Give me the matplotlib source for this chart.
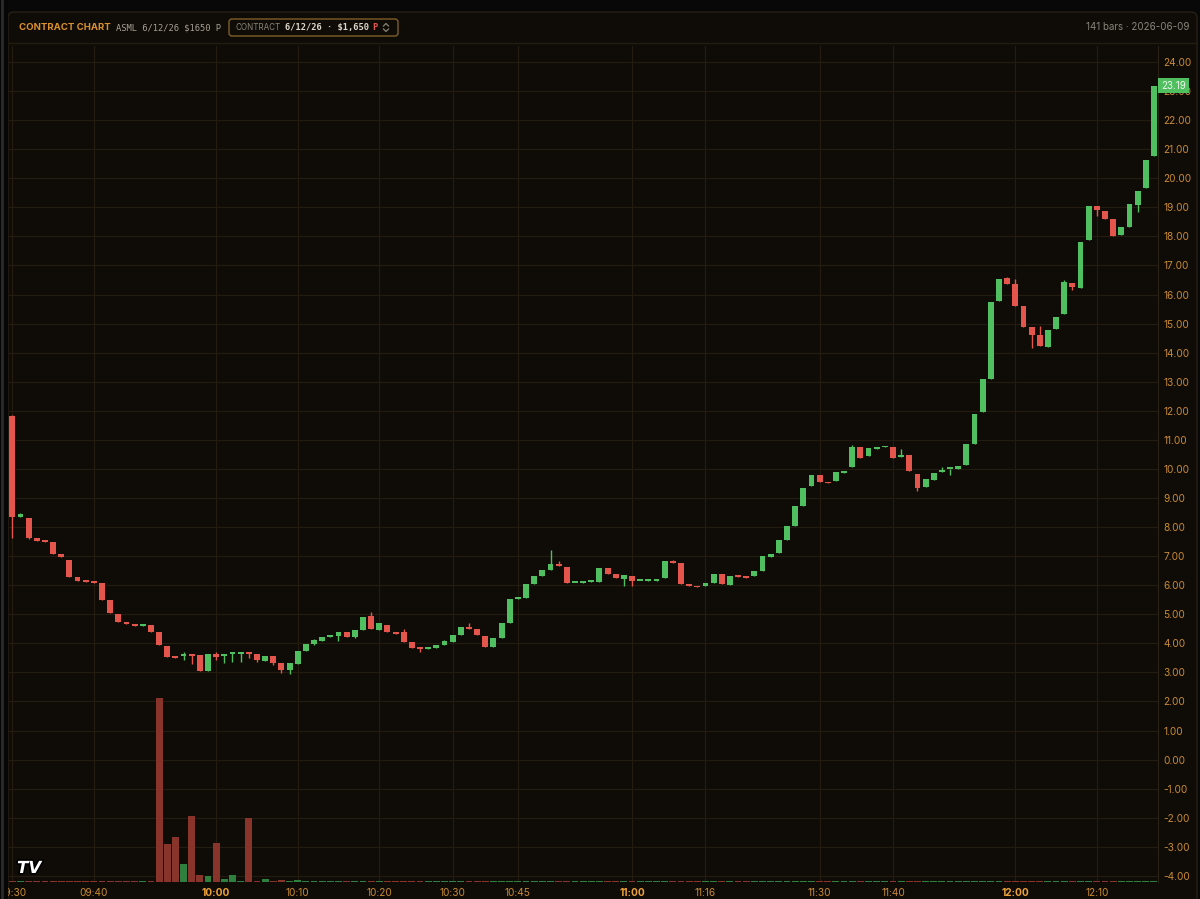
import matplotlib
matplotlib.use('Agg')
import matplotlib.pyplot as plt
from matplotlib.patches import FancyBboxPatch, Rectangle
from matplotlib.lines import Line2D
from matplotlib.transforms import blended_transform_factory
import matplotlib.patheffects as pe

# OHLC values (141 bars)
opens = [11.83, 8.35, 8.30, 7.62, 7.52, 7.48, 7.07, 6.86, 6.28, 6.15,
         6.14, 6.07, 5.48, 5.00, 4.72, 4.66, 4.61, 4.62, 4.38, 3.90,
         3.52, 3.55, 3.62, 3.59, 3.06, 3.62, 3.57, 3.63, 3.63, 3.67,
         3.64, 3.41, 3.57, 3.31, 3.09, 3.30, 3.72, 3.98, 4.09, 4.22,
         4.24, 4.38, 4.21, 4.47, 4.93, 4.46, 4.64, 4.38, 4.40, 4.03,
         3.84, 3.82, 3.85, 3.93, 4.05, 4.29, 4.57, 4.51, 4.27, 3.86,
         4.18, 4.70, 5.53, 5.55, 6.03, 6.30, 6.51, 6.74, 6.62, 6.07,
         6.08, 6.11, 6.11, 6.60, 6.39, 6.21, 6.30, 6.15, 6.15, 6.16,
         6.25, 6.82, 6.76, 6.05, 5.98, 5.97, 6.08, 6.39, 6.02, 6.33,
         6.29, 6.32, 6.48, 6.97, 7.11, 7.54, 8.03, 8.71, 9.40, 9.79,
         9.56, 9.60, 9.87, 10.05, 10.74, 10.46, 10.70, 10.74, 10.76, 10.40,
         10.47, 9.84, 9.37, 9.63, 9.89, 9.99, 10.01, 10.14, 10.85, 11.97,
         13.10, 15.77, 16.56, 16.37, 15.61, 14.89, 14.62, 14.21, 14.80, 15.33,
         16.40, 16.22, 17.86, 19.03, 18.89, 18.60, 18.05, 18.34, 19.07, 19.66,
         20.77]
closes = [8.35, 8.45, 7.62, 7.52, 7.49, 7.07, 6.96, 6.28, 6.14, 6.12,
          6.09, 5.48, 5.03, 4.72, 4.66, 4.61, 4.65, 4.38, 3.93, 3.52,
          3.50, 3.62, 3.58, 3.06, 3.62, 3.52, 3.64, 3.67, 3.67, 3.63,
          3.42, 3.56, 3.32, 3.09, 3.31, 3.74, 3.99, 4.10, 4.22, 4.25,
          4.38, 4.22, 4.46, 4.90, 4.48, 4.69, 4.38, 4.33, 4.03, 3.84,
          3.82, 3.84, 3.94, 4.07, 4.30, 4.56, 4.51, 4.28, 3.86, 4.18,
          4.69, 5.53, 5.55, 6.04, 6.31, 6.51, 6.74, 6.67, 6.08, 6.09,
          6.10, 6.14, 6.60, 6.37, 6.25, 6.35, 6.14, 6.16, 6.17, 6.19,
          6.83, 6.75, 6.04, 5.98, 5.93, 6.09, 6.39, 6.04, 6.31, 6.28,
          6.25, 6.50, 6.99, 7.06, 7.55, 8.03, 8.72, 9.36, 9.79, 9.56,
          9.50, 9.89, 9.92, 10.74, 10.39, 10.71, 10.75, 10.78, 10.36, 10.49,
          9.93, 9.36, 9.66, 9.87, 9.98, 10.01, 10.11, 10.85, 11.90, 13.10,
          15.76, 16.54, 16.37, 15.62, 14.89, 14.61, 14.22, 14.78, 15.24, 16.42,
          16.25, 17.80, 19.03, 18.90, 18.60, 18.03, 18.32, 19.12, 19.55, 20.64,
          23.19]
highs = [11.85, 8.47, 8.31, 7.62, 7.52, 7.48, 7.07, 6.86, 6.28, 6.15,
         6.14, 6.07, 5.48, 5.00, 4.72, 4.66, 4.65, 4.62, 4.38, 3.90,
         3.52, 3.70, 3.64, 3.59, 3.62, 3.69, 3.64, 3.67, 3.67, 3.70,
         3.64, 3.56, 3.57, 3.31, 3.31, 3.74, 3.99, 4.14, 4.22, 4.25,
         4.38, 4.38, 4.46, 4.90, 5.08, 4.69, 4.64, 4.38, 4.49, 4.03,
         3.84, 3.84, 3.94, 4.13, 4.30, 4.56, 4.69, 4.51, 4.27, 4.18,
         4.69, 5.53, 5.55, 6.04, 6.31, 6.51, 7.21, 6.85, 6.62, 6.09,
         6.10, 6.14, 6.60, 6.60, 6.39, 6.35, 6.30, 6.16, 6.17, 6.23,
         6.83, 6.86, 6.76, 6.05, 5.98, 6.09, 6.39, 6.39, 6.31, 6.33,
         6.29, 6.50, 6.99, 7.06, 7.55, 8.03, 8.72, 9.36, 9.79, 9.79,
         9.56, 9.89, 9.92, 10.81, 10.74, 10.71, 10.75, 10.78, 10.76, 10.67,
         10.47, 9.84, 9.66, 9.87, 10.05, 10.01, 10.11, 10.85, 11.90, 13.10,
         15.76, 16.54, 16.62, 16.54, 15.61, 14.89, 14.91, 14.78, 15.24, 16.50,
         16.40, 17.80, 19.03, 19.03, 18.89, 18.60, 18.32, 19.12, 19.55, 20.64,
         23.19]
lows = [7.62, 8.33, 7.60, 7.52, 7.49, 7.07, 6.96, 6.28, 6.14, 6.12,
        6.09, 5.48, 5.03, 4.72, 4.66, 4.61, 4.61, 4.38, 3.93, 3.52,
        3.50, 3.43, 3.30, 3.06, 3.06, 3.43, 3.33, 3.37, 3.36, 3.50,
        3.37, 3.41, 3.27, 2.98, 2.94, 3.30, 3.72, 3.95, 4.09, 4.22,
        4.07, 4.22, 4.17, 4.47, 4.48, 4.46, 4.38, 4.33, 4.03, 3.84,
        3.70, 3.82, 3.85, 3.93, 4.05, 4.29, 4.51, 4.28, 3.86, 3.86,
        4.18, 4.70, 5.53, 5.55, 6.03, 6.30, 6.51, 6.67, 6.08, 6.07,
        6.08, 6.11, 6.11, 6.37, 6.25, 5.96, 5.98, 6.15, 6.15, 6.16,
        6.25, 6.75, 6.04, 5.98, 5.93, 5.97, 6.08, 6.04, 6.02, 6.28,
        6.25, 6.32, 6.48, 6.97, 7.11, 7.54, 8.03, 8.71, 9.40, 9.56,
        9.50, 9.60, 9.87, 10.05, 10.39, 10.46, 10.70, 10.74, 10.36, 10.40,
        9.93, 9.24, 9.37, 9.63, 9.89, 9.80, 10.01, 10.14, 10.85, 11.97,
        13.10, 15.77, 16.37, 15.62, 14.89, 14.16, 14.22, 14.21, 14.80, 15.33,
        16.14, 16.22, 17.86, 18.70, 18.60, 18.03, 18.05, 18.34, 18.83, 19.66,
        20.77]
volumes = [1, 1, 1, 1, 1, 1, 1, 1, 1, 1,
           1, 1, 1, 1, 1, 1, 1, 1, 184, 38,
           45, 18, 66, 7, 6, 39, 3, 7, 1, 64,
           1, 3, 1, 2, 1, 2, 1, 1, 1, 1,
           1, 1, 1, 1, 1, 1, 1, 1, 1, 1,
           1, 1, 1, 1, 1, 1, 1, 1, 1, 1,
           1, 1, 1, 1, 1, 1, 1, 1, 1, 1,
           1, 1, 1, 1, 1, 1, 1, 1, 1, 1,
           1, 1, 1, 1, 1, 1, 1, 1, 1, 1,
           1, 1, 1, 1, 1, 1, 1, 1, 1, 1,
           1, 1, 1, 1, 1, 1, 1, 1, 1, 1,
           1, 1, 1, 1, 1, 1, 1, 1, 1, 1,
           1, 1, 1, 1, 1, 1, 1, 1, 1, 1,
           1, 1, 1, 1, 1, 1, 1, 1, 1, 1,
           1]
time_ticks = [0, 10, 25, 35, 45, 54, 62, 76, 85, 99, 108, 123, 133]
time_labels = ['09:30', '09:40', '10:00', '10:10', '10:20', '10:30', '10:45',
               '11:00', '11:16', '11:30', '11:40', '12:00', '12:10']
hour_labels = ['10:00', '11:00', '12:00']
price_ticks = list(range(-4, 25))
last_price = 23.19

GREEN = '#4fbf5f'
RED = '#e4564c'
VGREEN = '#2f7f3e'
VRED = '#88342b'
PANEL = '#0f0c07'
GRID = '#241c10'
ORANGE = '#c98a34'

fig = plt.figure(figsize=(12, 8.99), dpi=100, facecolor='#080808')
tr = fig.dpi_scale_trans


def P(x, y):
    # pixel position (from top-left) -> inches for dpi_scale_trans
    return x / 100, (899 - y) / 100


# outer panel and header
fig.patches.append(FancyBboxPatch(P(8, 930), 11.89, 9.18,
                                  boxstyle='round,pad=0,rounding_size=0.06',
                                  transform=tr, fc=PANEL, ec='#262016', lw=1, zorder=-5))
fig.lines.append(Line2D([0.08, 11.97], [P(0, 43)[1]] * 2, transform=tr, color='#231c11', lw=1))

fig.text(*P(19, 27.5), 'CONTRACT CHART', transform=tr, color='#dc912f', fontsize=6.9,
         fontweight='bold', family='Inter', va='center', ha='left')
fig.text(*P(116, 27.5), 'ASML 6/12/26 $1650 P', transform=tr, color='#a7a093', fontsize=6.3,
         family='DejaVu Sans Mono', va='center', ha='left')
fig.patches.append(FancyBboxPatch(P(229, 36), 1.69, 0.17,
                                  boxstyle='round,pad=0,rounding_size=0.03',
                                  transform=tr, fc='none', ec='#7f5d29', lw=1))
fig.text(*P(236, 27.5), 'CONTRACT', transform=tr, color='#8a8376', fontsize=5.8,
         family='Inter', va='center', ha='left')
fig.text(*P(285, 27.5), '6/12/26 · $1,650', transform=tr, color='#ddd6ca', fontsize=6.3,
         fontweight='bold', family='DejaVu Sans Mono', va='center', ha='left')
fig.text(*P(372, 27.5), 'P', transform=tr, color=RED, fontsize=6.3,
         fontweight='bold', family='DejaVu Sans Mono', va='center', ha='left')
for y0, d in [(26, -1), (29, 1)]:
    xs = [383.5, 386, 388.5]
    ys = [y0, y0 + 2.5 * d, y0]
    fig.lines.append(Line2D([v / 100 for v in xs], [(899 - v) / 100 for v in ys],
                            transform=tr, color='#8a8376', lw=0.9))
fig.text(*P(1190, 27.5), '141 bars · 2026-06-09', transform=tr, color='#8a857c', fontsize=7,
         family='Inter', va='center', ha='right')

# main price axes; volume twin drawn on top so the grid stays behind its bars
ax = fig.add_axes([8 / 1200, 17 / 899, 1150 / 1200, 836 / 899])
ax2 = ax.twinx()
ax.set_zorder(1)
ax2.set_zorder(2)
ax.patch.set_visible(False)
ax2.patch.set_visible(False)

x = list(range(len(opens)))
colors = [GREEN if c >= o else RED for o, c in zip(opens, closes)]
vcolors = [VGREEN if c >= o else VRED for o, c in zip(opens, closes)]

# volume
ax2.bar(x, volumes, width=0.84, color=vcolors, edgecolor='none')
ax2.set_ylim(0, max(volumes) * 4.54)
ax2.set_yticks([])
for s in ax2.spines.values():
    s.set_visible(False)

# candles
ax.vlines(x, lows, highs, colors=colors, lw=1, zorder=3)
bottoms = [min(o, c) for o, c in zip(opens, closes)]
heights = [max(abs(c - o), 0.06) for o, c in zip(opens, closes)]
ax.bar(x, heights, bottom=bottoms, width=0.72, color=colors, edgecolor='none', zorder=4)

ax.set_xlim(-0.53, 140.5)
ax.set_ylim(-4.21, 24.55)
ax.yaxis.tick_right()
ax.set_yticks(price_ticks)
ax.set_yticklabels([f'{p:.2f}' for p in price_ticks])
ax.set_xticks(time_ticks)
ax.set_xticklabels(time_labels)
ax.tick_params(axis='both', length=0, colors=ORANGE, labelsize=7.3)
ax.tick_params(axis='y', pad=4)
ax.tick_params(axis='x', pad=4.5)
for lab in ax.get_xticklabels() + ax.get_yticklabels():
    lab.set_family('Inter')
for lab in ax.get_xticklabels():
    if lab.get_text() in hour_labels:
        lab.set_fontweight('bold')
        lab.set_color('#eea23a')
ax.grid(True, color=GRID, lw=0.8)
ax.set_axisbelow(True)
for name, s in ax.spines.items():
    s.set_visible(name == 'right')
ax.spines['right'].set_color('#2a2216')

# last price tag (sits over the 23.00 label, as on the source chart)
ax2.text(1.0025, last_price, f'{last_price:.2f}', transform=blended_transform_factory(ax.transAxes, ax.transData),
         ha='left', va='center', fontsize=7, family='Inter', color='#eef8ee', clip_on=False, zorder=6,
         bbox=dict(boxstyle='square,pad=0.3', fc=GREEN, ec='none'))

# TradingView logo mark
fig.text(*P(17, 868), 'TV', transform=tr, color='white', fontsize=12, fontweight='heavy',
         family='DejaVu Sans', style='italic', va='center', ha='left',
         path_effects=[pe.withStroke(linewidth=2.5, foreground='black')])

# dark window edge on the left
fig.patches.append(Rectangle((0, 0), 0.08, 8.99, transform=tr, fc='#060606', ec='none', zorder=10))
fig.lines.append(Line2D([0.02, 0.02], [0, 8.99], transform=tr, color='#2a2a2a', lw=2, zorder=11))

fig.savefig('out.png', dpi=100, facecolor=fig.get_facecolor())
